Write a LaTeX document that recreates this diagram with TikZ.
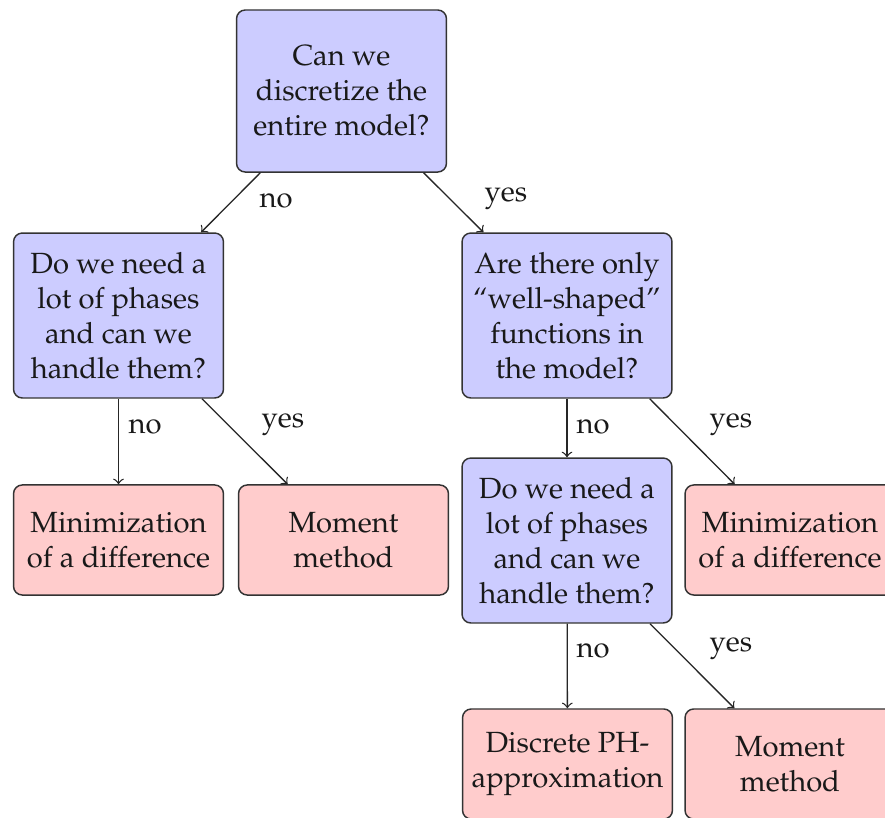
\documentclass[tikz,border=0pt]{standalone}
\usepackage[T1]{fontenc}
\usepackage{mathpazo}
\begin{document}
\begin{tikzpicture}[x=0.3425pt,y=-0.3425pt,
  box/.style={draw=black!80, line width=0.5pt, rounded corners=3pt, align=center, inner sep=0pt, minimum width=71.9pt, text=black!90},
  qbox/.style={box, fill=blue!20, minimum height=56.5pt},
  abox/.style={box, fill=red!20, minimum height=37.7pt},
  lbl/.style={inner sep=0pt, text=black!90},
  arr/.style={->, draw=black!85, line width=0.45pt}]
\useasboundingbox (0,0) rectangle (885,817);
\node[qbox, minimum height=55.5pt] (top) at (341.5,91) {Can we\\discretize the\\entire model?};
\node[qbox] (L1) at (118.5,315.5) {Do we need a\\lot of phases\\and can we\\handle them?};
\node[qbox] (R1) at (567,315.5) {Are there only\\``well-shaped''\\functions in\\the model?};
\node[abox] (LL) at (118.5,540) {Minimization\\of a difference};
\node[abox] (LR) at (343.5,540) {Moment\\method};
\node[qbox] (R2) at (567,540.5) {Do we need a\\lot of phases\\and can we\\handle them?};
\node[abox] (RR) at (790,540) {Minimization\\of a difference};
\node[abox] (BL) at (567.5,764) {Discrete PH-\\approximation};
\node[abox] (BR) at (790,764) {Moment\\method};
\draw[arr] (top) -- (L1);
\draw[arr] (top) -- (R1);
\draw[arr] (L1) -- (LL);
\draw[arr] (L1) -- (LR);
\draw[arr] (R1) -- (R2);
\draw[arr] (R1) -- (RR);
\draw[arr] (R2) -- (BL);
\draw[arr] (R2) -- (BR);
\node[lbl] (n1) at (276,201) {no};
\node[lbl] (y1) at (506,199) {yes};
\node[lbl] (n2) at (145,427) {no};
\node[lbl] (y2) at (283,425) {yes};
\node[lbl] (n3) at (593,427) {no};
\node[lbl] (y3) at (731,425) {yes};
\node[lbl] (n4) at (593,651) {no};
\node[lbl] (y4) at (731,649) {yes};
\end{tikzpicture}
\end{document}
